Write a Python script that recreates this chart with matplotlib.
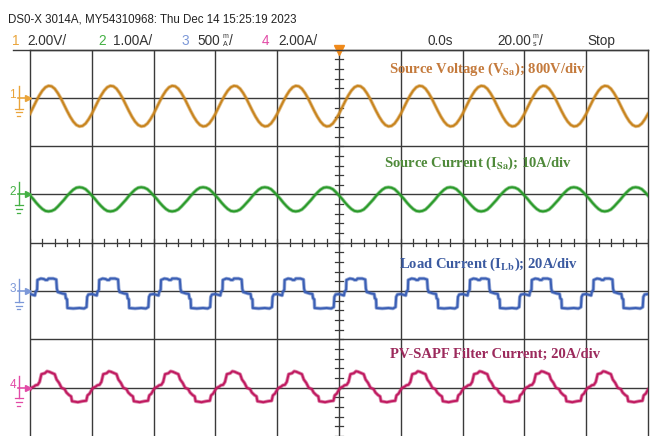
import matplotlib
matplotlib.use("Agg")
import matplotlib.pyplot as plt
import numpy as np

# one period (20 ms) of each trace, time in ms from the start of a period,
# values in screen divisions relative to each channel's reference level
t_sine = list(range(0, 21))
v_source = [-0.33, -0.20, -0.07, 0.05, 0.15, 0.22, 0.25, 0.24, 0.19, 0.10, -0.01,
            -0.14, -0.27, -0.39, -0.49, -0.56, -0.59, -0.58, -0.53, -0.44, -0.33]
i_source = [-0.02, -0.09, -0.17, -0.24, -0.30, -0.34, -0.35, -0.34, -0.31, -0.25, -0.18,
            -0.11, -0.03, 0.04, 0.10, 0.14, 0.15, 0.14, 0.11, 0.05, -0.02]

t_load = [0.0, 1.6, 1.8, 2.3, 2.4, 3.5, 4.5, 5.0, 5.6, 6.0, 7.5, 8.5, 8.7, 9.0,
          10.5, 11.4, 11.6, 12.0, 12.1, 14.0, 16.0, 17.5, 18.3, 18.5, 18.9, 20.0]
i_load = [-0.06, -0.09, -0.02, 0.03, 0.23, 0.26, 0.25, 0.23, 0.23, 0.26, 0.26, 0.24, 0.05, -0.02,
          -0.05, -0.06, -0.15, -0.17, -0.35, -0.36, -0.35, -0.36, -0.33, -0.12, -0.07, -0.06]

t_filter = [0.0, 0.5, 1.2, 1.8, 2.5, 3.1, 3.7, 4.8, 5.5, 6.2, 7.3, 8.0, 8.6, 9.4,
            10.2, 11.2, 11.8, 12.6, 13.3, 13.6, 15.5, 17.0, 18.2, 18.6, 19.3, 20.0]
i_filter = [-0.04, 0.0, 0.02, 0.05, 0.06, 0.12, 0.28, 0.30, 0.34, 0.33, 0.30, 0.28, 0.17, 0.10,
            0.0, -0.03, -0.10, -0.15, -0.18, -0.28, -0.30, -0.28, -0.27, -0.16, -0.12, -0.04]

n_periods = 10
period = 20.0
t_start = -100.0
ref_levels = [3, 1, -1, -3]

trace_colors = ["#c8841e", "#2a9a2a", "#3b5fb5", "#c01a60"]
chan_colors = ["#eaa43a", "#44b044", "#7c98d8", "#e24aa6"]
label_colors = ["#c47a3c", "#4f8a3a", "#3b5aa0", "#9c2a5c"]
labels = [r"Source Voltage (V$_{\mathbf{Sa}}$); 800V/div",
          r"Source Current (I$_{\mathbf{Sa}}$); 10A/div",
          r"Load Current (I$_{\mathbf{Lb}}$); 20A/div",
          "PV-SAPF Filter Current; 20A/div"]
label_pos = [(48.2, 3.60), (45.0, 1.64), (48.5, -0.45), (50.5, -2.31)]

plt.rcParams["mathtext.fontset"] = "stix"


def tile(t_one, v_one):
    # repeat one period across the whole screen
    t_one = np.asarray(t_one)
    v_one = np.asarray(v_one)
    ts, vs = [], []
    for k in range(n_periods):
        ts.append(t_one[:-1] + t_start + k * period)
        vs.append(v_one[:-1])
    ts.append([t_start + n_periods * period])
    vs.append([v_one[-1]])
    return np.concatenate(ts), np.concatenate(vs)


W, H = 655, 436
fig = plt.figure(figsize=(W / 100, H / 100), dpi=100)
ax = fig.add_axes([30 / W, 0, 618 / W, 386.4 / H])
ax.set_xlim(-100, 100)
ax.set_ylim(-4, 4)
ax.set_xticks([])
ax.set_yticks([])
for s in ax.spines.values():
    s.set_color("#3a3a3a")
    s.set_linewidth(1.0)
ax.spines["bottom"].set_visible(False)

grid_c = "#3a3a3a"
for x in np.arange(-80, 100, 20):
    ax.axvline(x, color=grid_c, lw=1.0, zorder=1)
for y in np.arange(-3, 4, 1):
    ax.axhline(y, color=grid_c, lw=1.0, zorder=1)

# minor ticks along the centre cross
for x in np.arange(-100, 100.01, 4):
    ax.plot([x, x], [-0.07, 0.07], color=grid_c, lw=0.9, zorder=1)
for y in np.arange(-4, 4.01, 0.2):
    ax.plot([-1.3, 1.3], [y, y], color=grid_c, lw=0.9, zorder=1)

traces = [(t_sine, v_source), (t_sine, i_source), (t_load, i_load), (t_filter, i_filter)]
for (tt, vv), ref, c in zip(traces, ref_levels, trace_colors):
    t, v = tile(tt, vv)
    ax.plot(t, v + ref, color=c, lw=2.6, alpha=0.5, zorder=3, solid_joinstyle="round")
    ax.plot(t, v + ref, color=c, lw=1.4, zorder=4, solid_joinstyle="round")

for lab, (lx, ly), c in zip(labels, label_pos, label_colors):
    ax.text(lx, ly, lab, color=c, fontsize=10.5, fontweight="bold",
            family="Liberation Serif", ha="center", va="center", zorder=5)

# channel reference markers on the left edge
for k, (ref, c) in enumerate(zip(ref_levels, chan_colors)):
    ax.text(-104.5, ref + 0.05, str(k + 1), color=c, fontsize=8.5, ha="right", va="center",
            family="Liberation Sans", clip_on=False)
    ax.plot([-100.8], [ref], marker=">", color=c, ms=5, clip_on=False, zorder=6)
    ax.plot([-104, -100.8], [ref, ref], color=c, lw=1.2, clip_on=False)
    ax.plot([-103.6, -103.6], [ref + 0.25, ref - 0.22], color=c, lw=1.0, clip_on=False)
    for dy, hw in [(-0.22, 1.3), (-0.3, 0.9), (-0.38, 0.5)]:
        ax.plot([-103.6 - hw, -103.6 + hw], [ref + dy, ref + dy], color=c, lw=0.9, clip_on=False)

# trigger position marker
ax.plot([0], [4.0], marker="v", color="#f08a1a", ms=7, clip_on=False, zorder=6)


# header
def fx(x):
    return x / W


def fy(y):
    return 1 - y / H


hdr_font = "Liberation Sans"
fig.text(fx(8), fy(19), "DS0-X 3014A, MY54310968: Thu Dec 14 15:25:19 2023",
         fontsize=8.3, family=hdr_font, va="center", color="#222222")
fig.add_artist(plt.Line2D([fx(13), fx(648)], [fy(50), fy(50)], color=grid_c, lw=1.0))

row = fy(41)
items = [(12, "1", chan_colors[0]), (27, "2.00V/", "#333333"),
         (98, "2", chan_colors[1]), (113, "1.00A/", "#333333"),
         (182, "3", chan_colors[2]), (197, "500", "#333333"),
         (262, "4", chan_colors[3]), (278, "2.00A/", "#333333"),
         (428, "0.0s", "#333333"), (497, "20.00", "#333333"),
         (587, "Stop", "#333333")]
for x, s, c in items:
    fig.text(fx(x), row, s, fontsize=9.8, family=hdr_font, va="center", color=c)

# stacked unit prefixes (mA, ms)
for x, top, bot in [(225, "m", "A"), (535, "m", "s")]:
    fig.text(fx(x), fy(36.5), top, fontsize=5, family=hdr_font, va="center", ha="center", color="#333333")
    fig.text(fx(x), fy(45), bot, fontsize=5, family=hdr_font, va="center", ha="center", color="#333333")
    fig.text(fx(x + 4), row, "/", fontsize=9.8, family=hdr_font, va="center", color="#333333")

fig.savefig("out.png", dpi=100, facecolor="white")
